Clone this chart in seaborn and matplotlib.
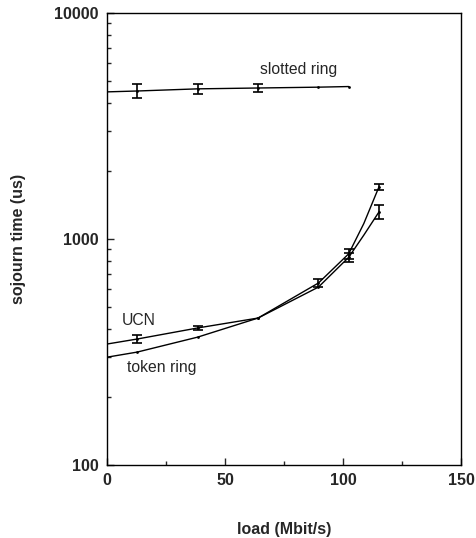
import numpy as np
import pandas as pd
import matplotlib
matplotlib.use("Agg")
import matplotlib.pyplot as plt
import seaborn as sns

# measured loads (Mbit/s)
load = [12.8, 38.4, 64.0, 89.6, 102.4, 115.2]

# curve readings incl. the start at 0 load
slotted_load = [0.0, 12.8, 38.4, 64.0, 89.6, 102.4]
slotted_time = [4480, 4520, 4620, 4660, 4700, 4730]
ucn_load = [0.0, 12.8, 38.4, 64.0, 89.6, 102.4, 108.8, 115.2]
ucn_time = [343, 361, 404, 447, 639, 860, 1170, 1698]
token_load = [0.0, 12.8, 38.4, 64.0, 89.6, 102.4, 108.8, 115.2]
token_time = [300, 316, 368, 447, 613, 830, 1040, 1316]

# error bars (half width, us)
slotted_err_load = [12.8, 38.4, 64.0]
slotted_err_time = [4520, 4620, 4660]
slotted_err = [310, 215, 190]
ucn_err_load = [12.8, 38.4, 89.6, 102.4, 115.2]
ucn_err_time = [361, 404, 639, 860, 1698]
ucn_err = [15, 8, 27, 45, 50]
token_err_load = [102.4, 115.2]
token_err_time = [830, 1316]
token_err = [40, 95]

sns.set_style("ticks")
plt.rcParams["font.family"] = ["Liberation Sans", "DejaVu Sans"]

fig = plt.figure(figsize=(4.76, 5.38), dpi=100)
ax = fig.add_axes([0.2248, 0.1357, 0.7437, 0.84])

curves = [
    ("slotted ring", slotted_load, slotted_time),
    ("UCN", ucn_load, ucn_time),
    ("token ring", token_load, token_time),
]
for name, xs, ys in curves:
    df = pd.DataFrame({"load": xs, "time": ys})
    sns.lineplot(data=df, x="load", y="time", ax=ax, color="black",
                 linewidth=1.0)
    # dots only at the measured loads
    pts = df[df["load"].isin(load)]
    ax.plot(pts["load"], pts["time"], "o", color="black", markersize=2,
            markeredgewidth=0)

for xs, ys, es in [(slotted_err_load, slotted_err_time, slotted_err),
                   (ucn_err_load, ucn_err_time, ucn_err),
                   (token_err_load, token_err_time, token_err)]:
    ax.errorbar(xs, ys, yerr=es, fmt="none", ecolor="black",
                elinewidth=1.2, capsize=3.5, capthick=1.2)

ax.set_yscale("log")
ax.set_xlim(0, 150)
ax.set_ylim(100, 10000)
ax.set_xticks([0, 50, 100, 150])
ax.set_xticks([25, 75, 125], minor=True)
ax.set_yticks([100, 1000, 10000])
ax.set_yticklabels(["100", "1000", "10000"])
ax.tick_params(axis="both", which="both", direction="in", top=False, right=False)
ax.tick_params(axis="both", which="major", length=5, width=1, labelsize=11.5, pad=6)
ax.tick_params(axis="both", which="minor", length=3, width=1)
for lbl in ax.get_xticklabels() + ax.get_yticklabels():
    lbl.set_fontweight("bold")
for sp in ax.spines.values():
    sp.set_linewidth(1.0)
    sp.set_color("black")

ax.set_xlabel("load (Mbit/s)", fontsize=11.5, fontweight="bold", labelpad=24)
ax.set_ylabel("sojourn time (us)", fontsize=11.5, fontweight="bold", labelpad=20)

ax.text(81, 5600, "slotted ring", fontsize=11.3, ha="center", va="center")
ax.text(13.6, 434, "UCN", fontsize=11.3, ha="center", va="center")
ax.text(23.3, 269, "token ring", fontsize=11.3, ha="center", va="center")

fig.savefig("out.png", dpi=100)
